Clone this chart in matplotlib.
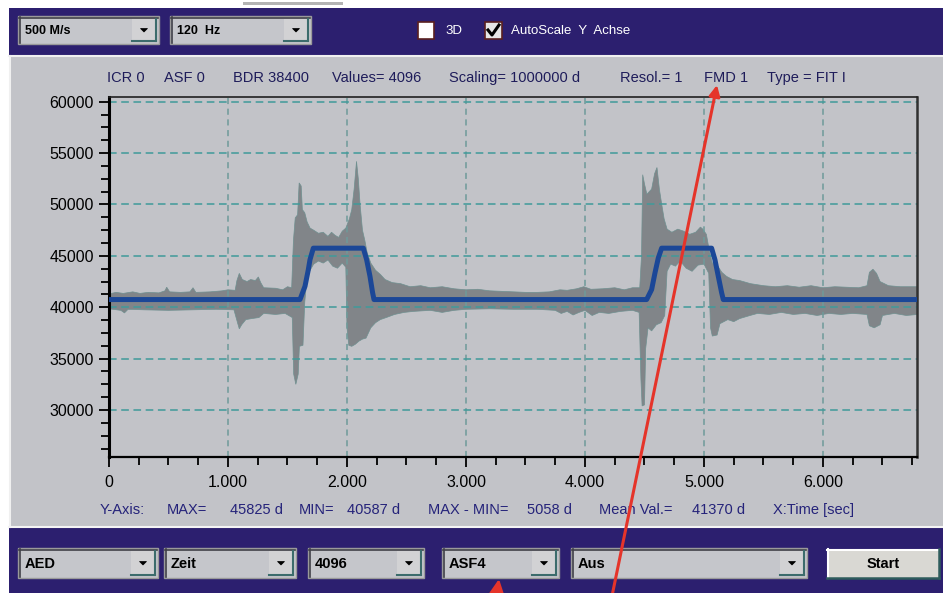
import matplotlib
matplotlib.use("Agg")
import matplotlib.pyplot as plt
from matplotlib.patches import Rectangle, Polygon, FancyArrowPatch
from matplotlib.ticker import MultipleLocator, FixedLocator, FixedFormatter
from matplotlib.lines import Line2D

# ---------------- data ----------------
upper_x = [0, 60, 120, 200, 260, 330, 420, 470, 485, 510, 600, 680, 706, 730, 850, 950,
           1000, 1060, 1075, 1095, 1120, 1160, 1190, 1230, 1255, 1275, 1300, 1400, 1460,
           1500, 1535, 1550, 1565, 1585, 1598, 1615, 1625, 1645, 1665, 1690, 1720, 1760,
           1800, 1840, 1870, 1900, 1930, 1960, 1990, 2020, 2040, 2060, 2080, 2095, 2110,
           2130, 2150, 2170, 2200, 2240, 2280, 2320, 2380, 2450, 2530, 2620, 2700, 2800,
           2900, 3000, 3100, 3200, 3300, 3400, 3500, 3600, 3700, 3790, 3850, 3930, 3990,
           4050, 4150, 4250, 4330, 4400, 4460, 4475, 4485, 4500, 4520, 4560, 4585, 4605,
           4625, 4645, 4665, 4690, 4730, 4780, 4830, 4880, 4930, 4970, 4990, 5020, 5045,
           5070, 5110, 5150, 5190, 5240, 5300, 5390, 5500, 5600, 5700, 5800, 5900, 6000,
           6100, 6200, 6300, 6370, 6390, 6420, 6450, 6480, 6550, 6650, 6795]
upper_y = [41300, 41450, 41350, 41500, 41350, 41450, 41400, 41600, 41950, 41500, 41450,
           41500, 41900, 41450, 41500, 41600, 41700, 41650, 42600, 43300, 42700, 42500,
           42700, 42600, 42950, 42400, 41900, 41850, 41700, 42000, 41900, 46500, 48700,
           49000, 52100, 51800, 49500, 49200, 48300, 47700, 47500, 47200, 47300, 46900,
           47300, 47000, 46800, 47400, 47700, 48600, 49500, 51500, 54200, 52500, 50000,
           47500, 46500, 45300, 44300, 43600, 43200, 42700, 42400, 42300, 42000, 42100,
           41900, 42000, 41800, 41700, 41750, 41600, 41550, 41500, 41450, 41450, 41500,
           41700, 41650, 41800, 42000, 41750, 41800, 41900, 41700, 41900, 41900, 45000,
           52900, 52000, 51000, 51500, 53000, 53600, 51500, 50000, 48600, 47600, 47300,
           47600, 47400, 47100, 47300, 47800, 47600, 47100, 45500, 44300, 44100, 43400,
           43000, 42700, 42600, 42300, 42100, 42000, 42100, 41950, 42100, 41900, 42000,
           41950, 41900, 42100, 43400, 43700, 43300, 42500, 42100, 42000, 42000]

lower_x = [0, 100, 130, 160, 300, 500, 700, 900, 1050, 1080, 1095, 1115, 1150, 1200, 1260,
           1300, 1400, 1480, 1540, 1552, 1570, 1590, 1600, 1630, 1645, 1665, 1690, 1720,
           1760, 1800, 1840, 1880, 1920, 1960, 1990, 2000, 2015, 2040, 2070, 2100, 2130,
           2160, 2200, 2240, 2280, 2330, 2400, 2480, 2560, 2700, 2800, 2900, 3000, 3200,
           3400, 3600, 3750, 3800, 3850, 3900, 3950, 4000, 4060, 4120, 4200, 4300, 4400,
           4455, 4470, 4480, 4500, 4510, 4530, 4560, 4600, 4640, 4670, 4690, 4720, 4760,
           4800, 4850, 4900, 4950, 5000, 5040, 5055, 5070, 5110, 5134, 5200, 5250, 5300,
           5387, 5450, 5550, 5650, 5750, 5850, 5950, 6050, 6150, 6250, 6370, 6390, 6430,
           6480, 6500, 6600, 6700, 6795]
lower_y = [39850, 39700, 39450, 39800, 39750, 39700, 39750, 39800, 39750, 38500, 37900,
           38300, 38800, 38900, 39000, 39400, 39300, 39400, 39000, 33500, 32500, 33500,
           36200, 36300, 40500, 43000, 43600, 44200, 44500, 44300, 44600, 44000, 43800,
           44300, 43900, 38000, 36300, 36200, 36400, 36700, 36900, 37000, 38000, 38500,
           38800, 39000, 39300, 39500, 39600, 39700, 39500, 39700, 39800, 39850, 39800,
           39800, 39700, 39400, 39600, 39250, 39500, 39700, 39200, 39500, 39400, 39600,
           39700, 39500, 33000, 30400, 30500, 36000, 38000, 37700, 38300, 38500, 39200,
           43500, 44200, 44000, 44500, 43800, 43500, 44100, 44200, 43300, 38000, 37200,
           37300, 38400, 38800, 38600, 38900, 39200, 39400, 39300, 39500, 39300, 39400,
           39200, 39400, 39300, 39400, 39300, 38200, 38000, 38300, 39200, 39400, 39200,
           39300]

fit_x = [0, 1605, 1647, 1675, 1689, 1717, 2137, 2165, 2193, 2215, 2227,
         4518, 4560, 4588, 4616, 4644, 5064, 5092, 5120, 5148, 5162, 6795]
fit_y = [40750, 40750, 42040, 43660, 44630, 45750, 45750, 44630, 43020, 41430, 40750,
         40750, 41720, 43340, 44800, 45750, 45750, 44630, 43020, 41430, 40750, 40750]

x_ticks = [0, 1000, 2000, 3000, 4000, 5000, 6000]
x_tick_labels = ["0", "1.000", "2.000", "3.000", "4.000", "5.000", "6.000"]
y_ticks = [30000, 35000, 40000, 45000, 50000, 55000, 60000]
y_tick_labels = ["30000", "35000", "40000", "45000", "50000", "55000", "60000"]

header_items = [("ICR 0", 107), ("ASF 0", 164), ("BDR 38400", 233), ("Values= 4096", 332),
                ("Scaling= 1000000 d", 449), ("Resol.= 1", 620), ("FMD 1", 704),
                ("Type = FIT I", 767)]
footer_items = [("Y-Axis:", 100), ("MAX=", 167), ("45825 d", 230), ("MIN=", 299),
                ("40587 d", 347), ("MAX - MIN=", 428), ("5058 d", 527),
                ("Mean Val.=", 599), ("41370 d", 692), ("X:Time [sec]", 773)]

FONT = ["Liberation Sans", "DejaVu Sans"]
NAVY = "#2C1F6F"
PANEL = "#C2C3C8"

fig = plt.figure(figsize=(9.43, 5.93), dpi=100)
fig.patch.set_facecolor("white")

# ---------------- background UI (pixel coordinates) ----------------
bg = fig.add_axes([0, 0, 1, 1], zorder=0)
bg.set_xlim(0, 943)
bg.set_ylim(593, 0)
bg.axis("off")


def rect(ax, x0, y0, x1, y1, fc, ec="none", lw=0, z=1):
    ax.add_patch(Rectangle((x0, y0), x1 - x0, y1 - y0, facecolor=fc, edgecolor=ec,
                           linewidth=lw, zorder=z))


def hline(ax, x0, x1, y, c, lw=1, z=2):
    ax.add_line(Line2D([x0, x1], [y, y], color=c, lw=lw, zorder=z))


def vline(ax, x, y0, y1, c, lw=1, z=2):
    ax.add_line(Line2D([x, x], [y0, y1], color=c, lw=lw, zorder=z))


rect(bg, 243, 2, 343, 5, "#B4B4B4")
rect(bg, 9, 8, 943, 55, NAVY)
rect(bg, 9, 55, 943, 527, PANEL)
hline(bg, 9, 943, 56, "#F0F0F0", 1.5)
vline(bg, 10, 56, 527, "#F0F0F0", 1.5)
hline(bg, 9, 943, 527, "#F4F4F4", 1.5)
rect(bg, 9, 528, 943, 593, NAVY)


def combo(x0, y0, x1, y1, text, fs=10.5, btn=24):
    rect(bg, x0, y0, x1, y1, "#C5C6CB", "#9A9A9A", 1, 2)
    hline(bg, x0 + 1, x1 - 1, y0 + 1.5, "#404048", 1.2, 3)
    vline(bg, x0 + 1.5, y0 + 1, y1 - 1, "#404048", 1.2, 3)
    bx0 = x1 - btn - 3
    rect(bg, bx0, y0 + 3, x1 - 3, y1 - 3, "#D2D2D4", "none", 0, 3)
    hline(bg, bx0, x1 - 3, y1 - 3, "#3C6C6C", 1.5, 4)
    vline(bg, x1 - 3, y0 + 3, y1 - 3, "#3C6C6C", 1.5, 4)
    cx = (bx0 + x1 - 3) / 2
    cy = (y0 + y1) / 2
    bg.add_patch(Polygon([[cx - 3.5, cy - 1.5], [cx + 3.5, cy - 1.5], [cx, cy + 2]],
                         closed=True, facecolor="black", edgecolor="black", lw=0.5, zorder=5))
    bg.text(x0 + 7, cy + 0.5, text, fontsize=fs, fontweight="bold", family=FONT,
            ha="left", va="center", color="black", zorder=5)


combo(18, 16, 159, 44, "500 M/s", fs=9)
combo(170, 16, 311, 44, "120  Hz", fs=9)

# check boxes
rect(bg, 418, 22, 434, 39, "white", "#5A2020", 1.2, 3)
bg.text(445, 31, "3D", fontsize=9.5, color="white", family=FONT, ha="left", va="center")
rect(bg, 485, 22, 502, 39, "#E6E6E6", "#5A2020", 1.2, 3)
bg.add_line(Line2D([488, 492, 499], [30, 35, 25], color="black", lw=2.2, zorder=4))
bg.text(511, 31, "AutoScale  Y  Achse", fontsize=9.5, color="white", family=FONT,
        ha="left", va="center")

# bottom controls
combo(18, 548, 158, 578, "AED")
combo(164, 548, 296, 578, "Zeit")
combo(308, 548, 424, 578, "4096")
combo(442, 548, 559, 578, "ASF4")
combo(571, 548, 807, 578, "Aus")
rect(bg, 827, 549, 939, 578, "#D9D8D3", "none", 0, 2)
hline(bg, 827, 939, 549.5, "#FFFFFF", 1.5, 3)
vline(bg, 827.5, 549, 578, "#FFFFFF", 1.5, 3)
hline(bg, 827, 939, 577.5, "#2E5C5C", 1.8, 3)
vline(bg, 938.5, 549, 578, "#2E5C5C", 1.8, 3)
bg.text(883, 563.5, "Start", fontsize=10.5, fontweight="bold", family=FONT,
        ha="center", va="center", color="black", zorder=5)

# header / footer text
for txt, px in header_items:
    bg.text(px, 78, txt, fontsize=10.5, family=FONT, color="#1E1C5A", ha="left", va="center")
for txt, px in footer_items:
    bg.text(px, 510, txt, fontsize=10.5, family=FONT, color="#25237A", ha="left", va="center")

# ---------------- chart ----------------
ax = fig.add_axes([109 / 943, 1 - 457 / 593, 808 / 943, 360 / 593], zorder=1)
ax.set_facecolor(PANEL)
ax.set_xlim(0, 6790)
ax.set_ylim(25430, 60460)

env_x = list(upper_x) + list(reversed(lower_x))
env_y = list(upper_y) + list(reversed(lower_y))
ax.fill(env_x, env_y, facecolor="#818589", edgecolor="#6F9090", linewidth=0.5, zorder=1)
ax.plot(fit_x, fit_y, color="#1B4797", lw=3.6, solid_joinstyle="round", zorder=3)

ax.xaxis.set_major_locator(FixedLocator(x_ticks))
ax.xaxis.set_major_formatter(FixedFormatter(x_tick_labels))
ax.xaxis.set_minor_locator(MultipleLocator(250))
ax.yaxis.set_major_locator(FixedLocator(y_ticks))
ax.yaxis.set_major_formatter(FixedFormatter(y_tick_labels))
ax.yaxis.set_minor_locator(MultipleLocator(1250))

ax.tick_params(axis="both", which="major", direction="out", length=7, width=1.3,
               colors="black", labelsize=11.5)
ax.tick_params(axis="both", which="minor", direction="out", length=5.5, width=1.3,
               colors="black")
ax.tick_params(axis="x", which="major", pad=6)
ax.tick_params(axis="y", which="major", pad=4)
for lab in ax.get_xticklabels() + ax.get_yticklabels():
    lab.set_family(FONT)

ax.xaxis.grid(True, which="major", color="#6E9A9A", linestyle=(0, (4, 3)), lw=1.1)
ax.yaxis.grid(True, which="major", color="#3F9A9A", linestyle=(0, (5, 3)), lw=1.1)
ax.set_axisbelow("line")

ax.spines["left"].set_linewidth(2.2)
ax.spines["bottom"].set_linewidth(1.6)
ax.spines["top"].set_linewidth(1.2)
ax.spines["right"].set_linewidth(1.8)
ax.spines["right"].set_color("#303030")
ax.spines["top"].set_color("#202020")

# ---------------- red annotation arrows ----------------
fg = fig.add_axes([0, 0, 1, 1], zorder=3)
fg.set_xlim(0, 943)
fg.set_ylim(593, 0)
fg.axis("off")
fg.patch.set_alpha(0)
fg.add_patch(FancyArrowPatch((612, 596), (717, 85), arrowstyle="-|>", mutation_scale=16,
                             color="#E5342A", lw=2.2, shrinkA=0, shrinkB=0))
fg.add_patch(FancyArrowPatch((495, 606), (499, 579), arrowstyle="-|>", mutation_scale=22,
                             color="#E5342A", lw=2.2, shrinkA=0, shrinkB=0))

fig.savefig("out.png", dpi=100)
